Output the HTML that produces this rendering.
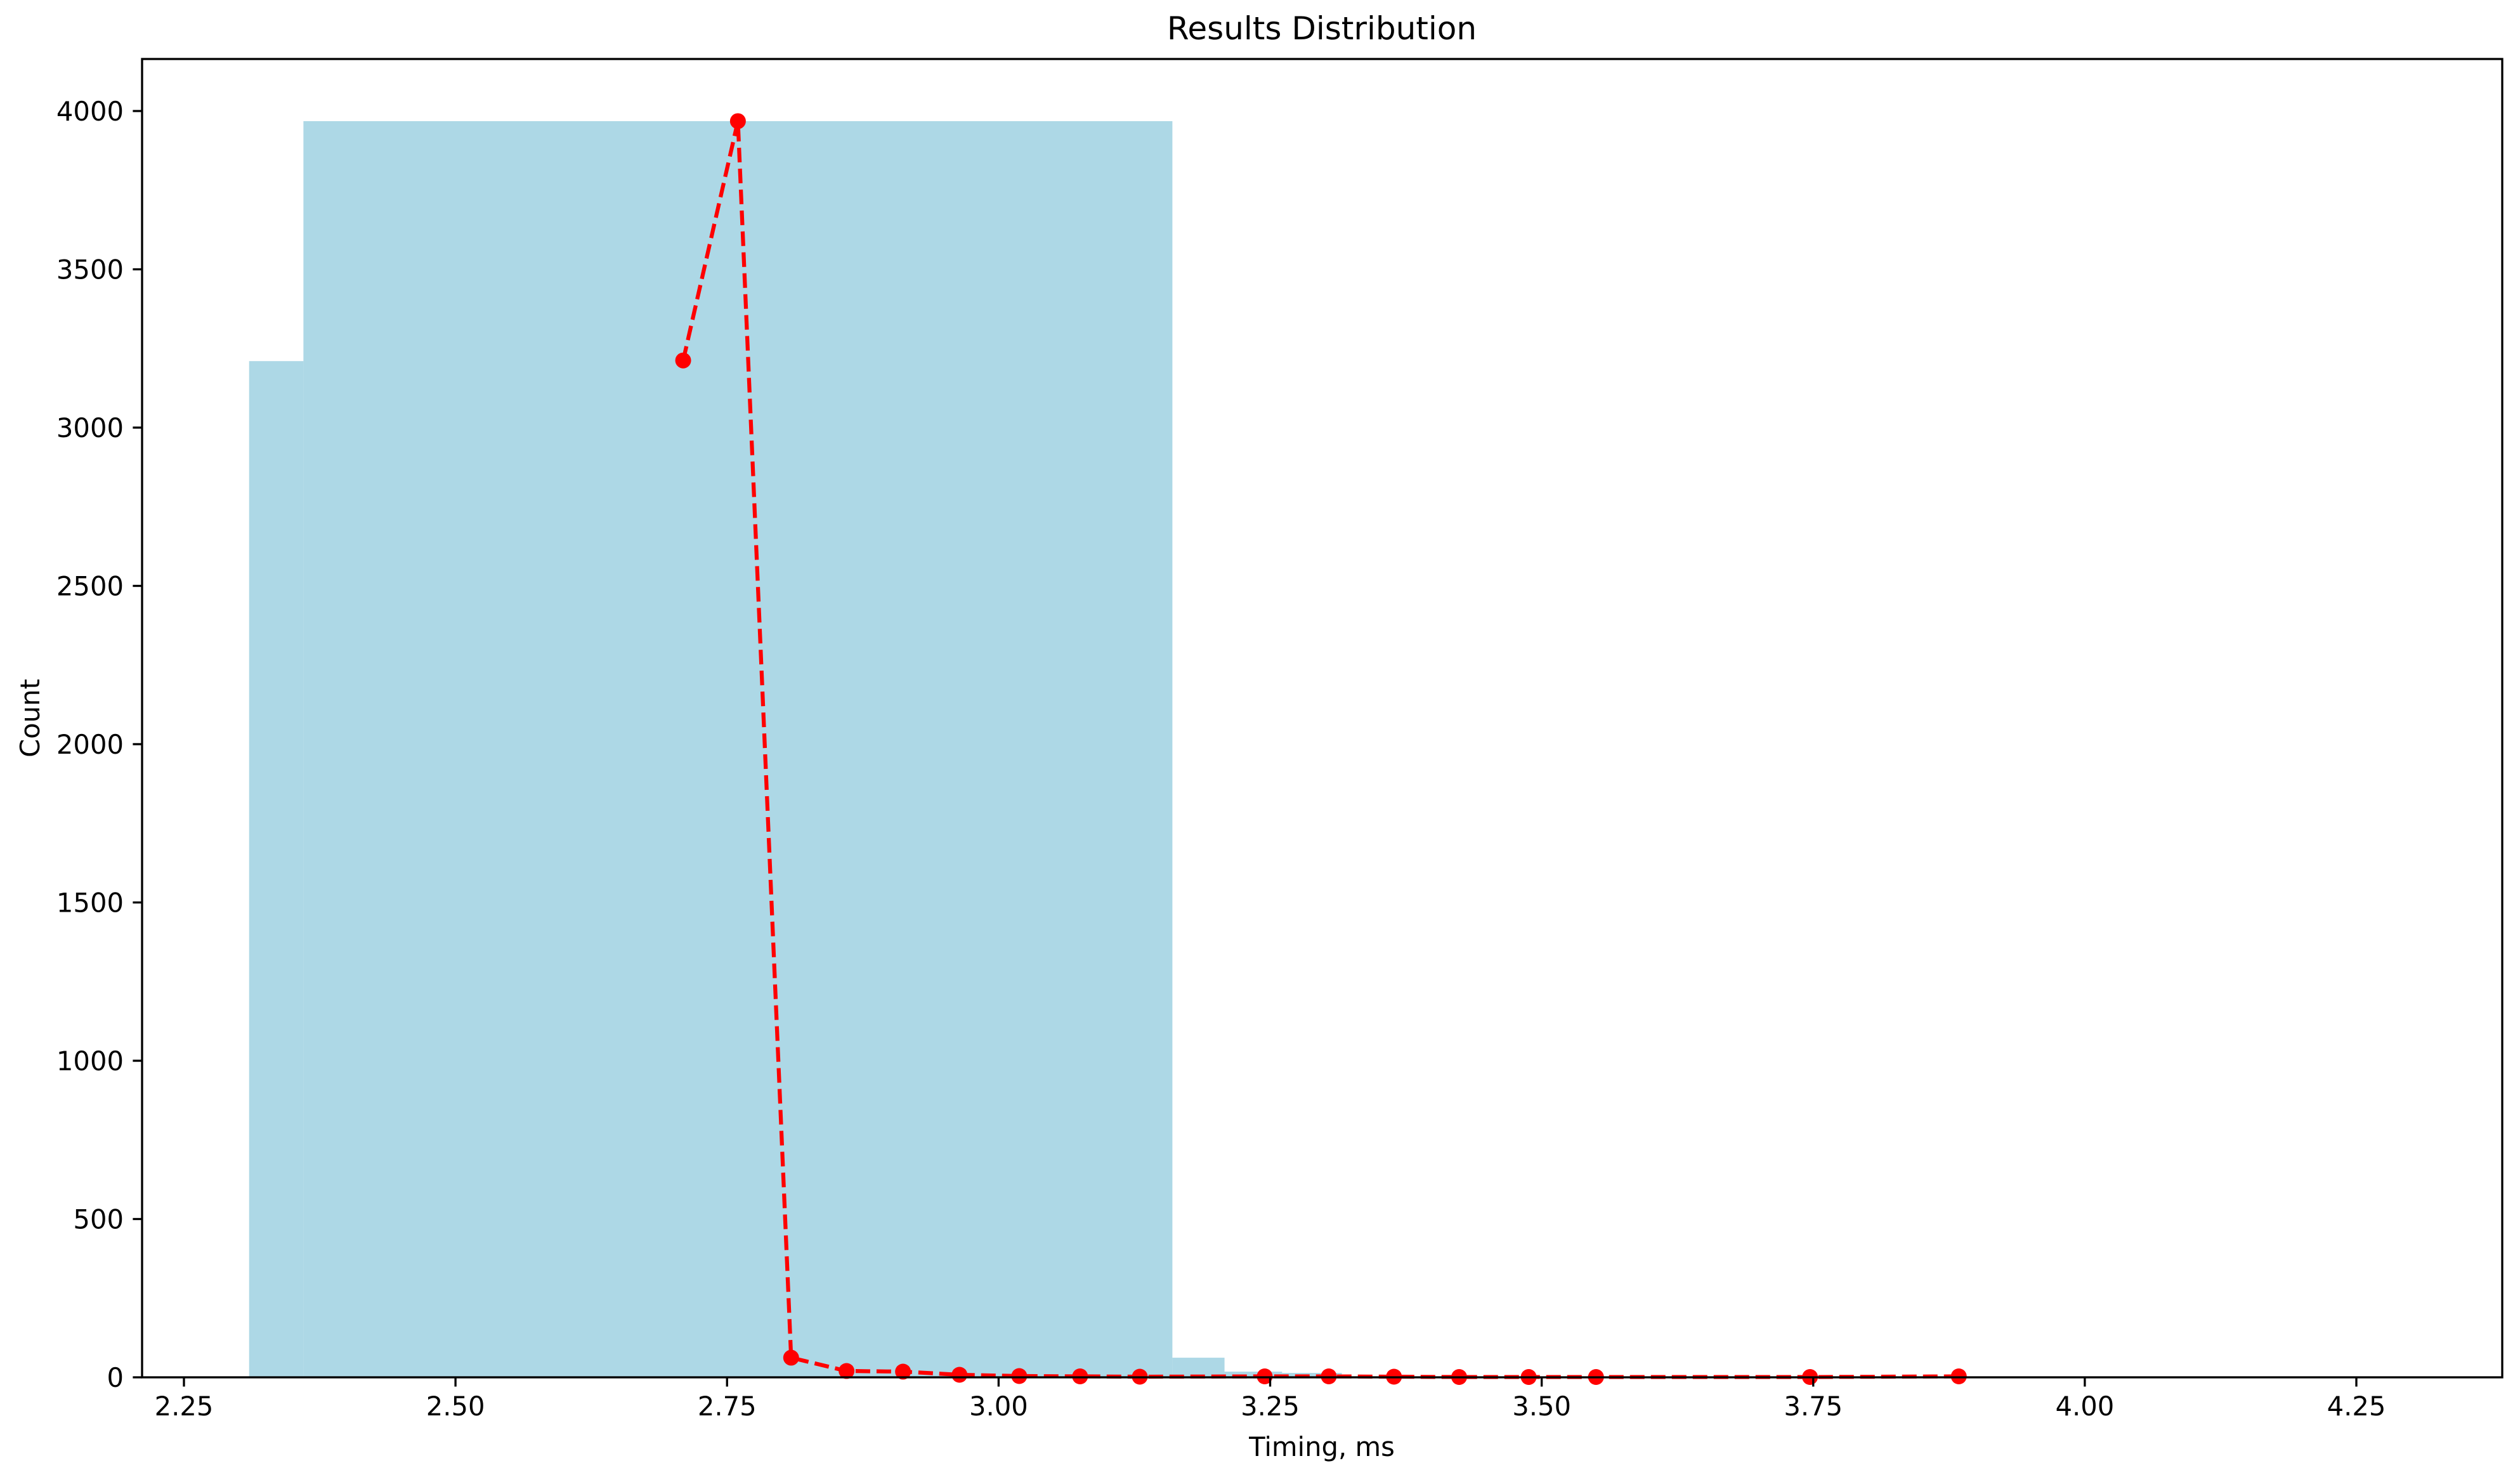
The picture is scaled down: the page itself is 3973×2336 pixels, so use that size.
<!DOCTYPE html>
<html><head><meta charset="utf-8"><style>
html,body{margin:0;padding:0;background:#fff;}
svg text{font-family:"DejaVu Sans","Liberation Sans",sans-serif;fill:#000;}
</style></head><body>
<svg id="chart" width="3973" height="2331" viewBox="0 0 3973 2331" xmlns="http://www.w3.org/2000/svg">
<rect width="3973" height="2331" fill="#fff"/>
<text x="2084" y="62" font-size="50" text-anchor="middle">Results Distribution</text>
<g id="bars"></g>
<g id="line"></g>
<g id="axes"></g>
<text x="2084" y="2295" font-size="41.7" text-anchor="middle">Timing, ms</text>
<text x="0" y="0" font-size="41.7" text-anchor="middle" transform="translate(62,1132) rotate(-90)">Count</text>
</svg>
<script>
const binEdgesLeft = [2.31, 2.36, 3.16, 3.208, 3.261, 3.316];
const binEdgesRight = [2.36, 3.16, 3.208, 3.261, 3.316, 3.884];
const binCounts = [3210, 3968, 62, 18, 14, 3];
const pointX = [2.7096, 2.760, 2.809, 2.860, 2.912, 2.964, 3.019, 3.075, 3.130, 3.245, 3.304, 3.364, 3.424, 3.488, 3.550, 3.747, 3.884];
const pointY = [3212, 3968, 62, 20, 18, 8, 4, 3, 2, 3, 3, 2, 1, 1, 1, 1, 3];
const xTicks = [2.25, 2.50, 2.75, 3.00, 3.25, 3.50, 3.75, 4.00, 4.25];
const xTickLabels = ["2.25","2.50","2.75","3.00","3.25","3.50","3.75","4.00","4.25"];
const yTicks = [0, 500, 1000, 1500, 2000, 2500, 3000, 3500, 4000];
const yTickLabels = ["0","500","1000","1500","2000","2500","3000","3500","4000"];

const NS = "http://www.w3.org/2000/svg";
const L = 224, R = 3945, T = 93, B = 2171;
const sx = v => 290 + (v - 2.25) * (3715 - 290) / 2.0;
const sy = v => 2171 - v * (2171 - 175) / 4000;
function mk(tag, attrs, parent){ const e = document.createElementNS(NS, tag); for (const k in attrs) e.setAttribute(k, attrs[k]); parent.appendChild(e); return e; }

const gb = document.getElementById('bars');
for (let i = 0; i < binCounts.length; i++) {
  const x0 = sx(binEdgesLeft[i]), x1 = sx(binEdgesRight[i]), y = sy(binCounts[i]);
  const r = mk('rect', {x: x0, y: y, width: x1 - x0, height: B - y, fill: '#add8e6'}, gb);
  
  
}

const gl = document.getElementById('line');
const pts = pointX.map((v, i) => sx(v) + ',' + sy(pointY[i])).join(' ');
const pl = mk('polyline', {points: pts, fill: 'none', stroke: '#ff0000', 'stroke-width': 6.25, 'stroke-dasharray': '23,10'}, gl);


for (let i = 0; i < pointX.length; i++) {
  const c = mk('circle', {cx: sx(pointX[i]), cy: sy(pointY[i]), r: 12.5, fill: '#ff0000'}, gl);
  
  
}

const ga = document.getElementById('axes');
const frame = mk('rect', {x: L, y: T, width: R - L, height: B - T, fill: 'none', stroke: '#000', 'stroke-width': 3.33}, ga);


for (let i = 0; i < xTicks.length; i++) {
  const x = sx(xTicks[i]);
  const t = mk('line', {x1: x, x2: x, y1: B, y2: B + 14.6, stroke: '#000', 'stroke-width': 3.33}, ga);
  
  
  const tx = mk('text', {x: x, y: B + 60, 'font-size': 41.7, 'text-anchor': 'middle'}, ga);
  tx.textContent = xTickLabels[i];
  
  
}
for (let i = 0; i < yTicks.length; i++) {
  const y = sy(yTicks[i]);
  const t = mk('line', {x1: L - 14.6, x2: L, y1: y, y2: y, stroke: '#000', 'stroke-width': 3.33}, ga);
  
  
  const tx = mk('text', {x: L - 29, y: y + 15, 'font-size': 41.7, 'text-anchor': 'end'}, ga);
  tx.textContent = yTickLabels[i];
  
  
}
</script>
</body></html>
